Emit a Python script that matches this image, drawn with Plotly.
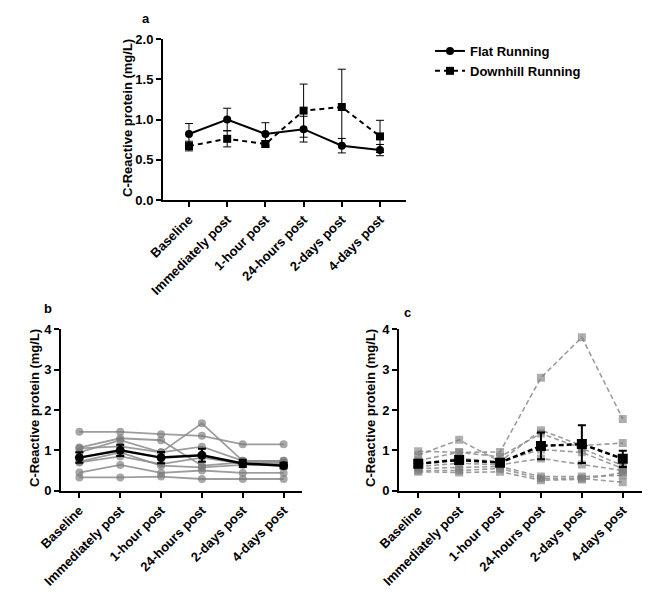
import plotly.graph_objects as go

categories = ["Baseline", "Immediately post", "1-hour post", "24-hours post", "2-days post", "4-days post"]

flat_mean = [0.82, 1.00, 0.82, 0.88, 0.675, 0.62]
flat_sem = [0.13, 0.14, 0.14, 0.16, 0.09, 0.07]
down_mean = [0.67, 0.76, 0.695, 1.11, 1.155, 0.79]
down_sem = [0.06, 0.10, 0.04, 0.33, 0.47, 0.20]

flat_subjects = [
    [1.46, 1.46, 1.40, 1.36, 1.15, 1.15],
    [1.07, 1.30, 1.25, 0.62, 0.70, 0.70],
    [0.95, 1.25, 0.95, 1.67, 0.74, 0.74],
    [1.05, 1.10, 0.95, 1.09, 0.74, 0.74],
    [0.70, 0.85, 0.66, 0.82, 0.67, 0.67],
    [0.72, 0.95, 0.62, 0.58, 0.64, 0.64],
    [0.45, 0.64, 0.44, 0.50, 0.44, 0.44],
    [0.33, 0.33, 0.35, 0.29, 0.29, 0.29],
]

down_subjects = [
    [0.98, 0.95, 0.96, 2.80, 3.80, 1.78],
    [0.88, 1.26, 0.72, 1.50, 1.12, 1.18],
    [0.75, 0.95, 0.84, 1.42, 1.05, 0.62],
    [0.66, 0.80, 0.72, 1.02, 0.95, 0.55],
    [0.60, 0.68, 0.64, 0.80, 0.65, 0.50],
    [0.55, 0.58, 0.60, 0.35, 0.35, 0.38],
    [0.50, 0.50, 0.55, 0.30, 0.30, 0.21],
    [0.47, 0.45, 0.47, 0.26, 0.28, 0.45],
]

W, H = 661, 609
OFF = 8  # page body margin
FONT = "Liberation Sans, Arial, sans-serif"
FS = 13
xs = list(range(len(categories)))

def px_x(p):
    return (p - OFF) / W

def px_y(p):
    return 1 - (p - OFF) / H

fig = go.Figure()

# Panel a
fig.add_trace(go.Scatter(
    x=xs, y=flat_mean, mode="lines+markers", name="<b>Flat Running</b>",
    line=dict(color="black", width=2), marker=dict(symbol="circle", size=8, color="black"),
    error_y=dict(type="data", array=flat_sem, color="black", thickness=1, width=4),
    xaxis="x", yaxis="y", legendrank=1))
fig.add_trace(go.Scatter(
    x=xs, y=down_mean, mode="lines+markers", name="<b>Downhill Running</b>",
    line=dict(color="black", width=2, dash="5px,4px"), marker=dict(symbol="square", size=8, color="black"),
    error_y=dict(type="data", array=down_sem, color="black", thickness=1, width=4),
    xaxis="x", yaxis="y", legendrank=2))

# Panel b
for s in flat_subjects:
    fig.add_trace(go.Scatter(
        x=xs, y=s, mode="lines+markers", showlegend=False,
        line=dict(color="rgba(140,140,140,0.85)", width=1.8),
        marker=dict(symbol="circle", size=8, color="rgba(120,120,120,0.65)"),
        xaxis="x2", yaxis="y2"))
fig.add_trace(go.Scatter(
    x=xs, y=flat_mean, mode="lines+markers", showlegend=False,
    line=dict(color="black", width=2.5), marker=dict(symbol="circle", size=9, color="black"),
    error_y=dict(type="data", array=flat_sem, color="black", thickness=2, width=4),
    xaxis="x2", yaxis="y2"))

# Panel c
for s in down_subjects:
    fig.add_trace(go.Scatter(
        x=xs, y=s, mode="lines+markers", showlegend=False,
        line=dict(color="rgba(140,140,140,0.85)", width=1.6, dash="5px,3px"),
        marker=dict(symbol="square", size=8, color="rgba(120,120,120,0.6)"),
        xaxis="x3", yaxis="y3"))
fig.add_trace(go.Scatter(
    x=xs, y=down_mean, mode="lines+markers", showlegend=False,
    line=dict(color="black", width=2.5, dash="5px,3px"), marker=dict(symbol="square", size=10, color="black"),
    error_y=dict(type="data", array=down_sem, color="black", thickness=2, width=4),
    xaxis="x3", yaxis="y3"))

axis_common = dict(
    showline=True, linecolor="black", linewidth=2, ticks="outside", ticklen=5, tickwidth=2,
    tickcolor="black", showgrid=False, zeroline=False, automargin=False,
    tickfont=dict(family=FONT, size=FS, color="black", weight="bold"),
)

xaxis_common = dict(axis_common, tickvals=xs, ticktext=categories, tickangle=-45)

fig.update_layout(
    width=W, height=H, margin=dict(l=0, r=0, t=0, b=0, autoexpand=False),
    plot_bgcolor="white", paper_bgcolor="white",
    font=dict(family=FONT, color="black"),
    xaxis=dict(xaxis_common, domain=[px_x(163), px_x(406)], range=[-0.68, 5.68], anchor="y"),
    yaxis=dict(axis_common, domain=[px_y(200), px_y(39)], range=[0, 2], tickvals=[0, 0.5, 1, 1.5, 2],
               tickformat=".1f", anchor="x"),
    xaxis2=dict(xaxis_common, domain=[px_x(61), px_x(302)], range=[-0.45, 5.45], anchor="y2"),
    yaxis2=dict(axis_common, domain=[px_y(490.7), px_y(329.3)], range=[0, 4], dtick=1, anchor="x2"),
    xaxis3=dict(xaxis_common, domain=[px_x(399), px_x(642)], range=[-0.47, 5.47], anchor="y3"),
    yaxis3=dict(axis_common, domain=[px_y(490.7), px_y(329.3)], range=[0, 4], dtick=1, anchor="x3"),
    showlegend=True,
    legend=dict(x=px_x(430), y=px_y(36), xanchor="left", yanchor="top", itemwidth=30,
                font=dict(family=FONT, size=FS, color="black"), bgcolor="rgba(0,0,0,0)",
                tracegroupgap=4),
)

ytitle = "<b>C-Reactive protein (mg/L)</b>"
lab = dict(xref="paper", yref="paper", showarrow=False, xanchor="center", yanchor="middle")
annotations = [
    dict(lab, text="<b>a</b>", x=px_x(146), y=px_y(19), font=dict(size=FS, family=FONT, color="black")),
    dict(lab, text="<b>b</b>", x=px_x(48), y=px_y(309), font=dict(size=FS, family=FONT, color="black")),
    dict(lab, text="<b>c</b>", x=px_x(407), y=px_y(312), font=dict(size=FS, family=FONT, color="black")),
    dict(lab, text=ytitle, x=px_x(127), y=px_y(118), textangle=-90,
         font=dict(size=FS, family=FONT, color="black")),
    dict(lab, text=ytitle, x=px_x(34), y=px_y(408), textangle=-90,
         font=dict(size=FS, family=FONT, color="black")),
    dict(lab, text=ytitle, x=px_x(370), y=px_y(408), textangle=-90,
         font=dict(size=FS, family=FONT, color="black")),
]
fig.update_layout(annotations=annotations)

fig.write_html("out.html")
